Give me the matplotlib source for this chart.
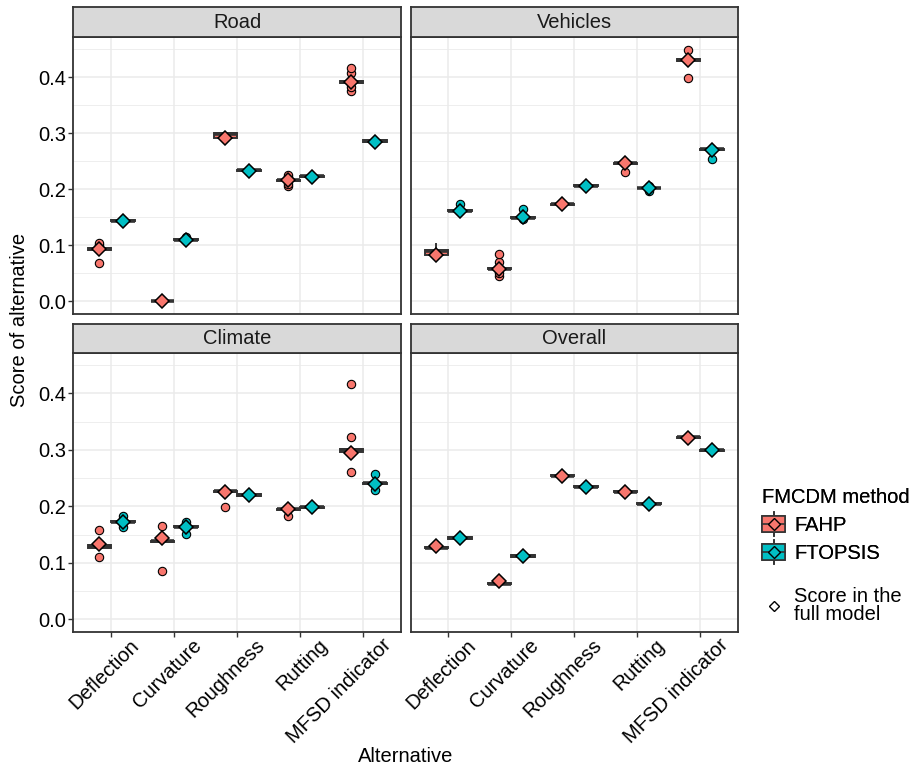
import numpy as np
import matplotlib
matplotlib.use("Agg")
import matplotlib.pyplot as plt
import matplotlib.transforms as mtransforms
from matplotlib.patches import Rectangle, Patch
from matplotlib.lines import Line2D
from matplotlib.legend_handler import HandlerBase

plt.rcParams['font.family'] = ['Liberation Sans', 'DejaVu Sans']

# ---------------------------------------------------------------------------
# data: scores of each alternative from the sensitivity runs + full model
# ---------------------------------------------------------------------------
alternatives = ["Deflection", "Curvature", "Roughness", "Rutting", "MFSD indicator"]
methods = ["FAHP", "FTOPSIS"]
method_colors = ["#F8766D", "#00BFC4"]
panel_names = ["Road", "Vehicles", "Climate", "Overall"]

road_fahp = [
    [0.068, 0.091, 0.092, 0.093, 0.093, 0.094, 0.095, 0.101, 0.105],
    [0.000, 0.000, 0.000, 0.000, 0.000, 0.000, 0.000, 0.000, 0.000],
    [0.288, 0.290, 0.291, 0.296, 0.298, 0.299, 0.301, 0.301, 0.302],
    [0.205, 0.209, 0.215, 0.216, 0.216, 0.217, 0.217, 0.221, 0.225],
    [0.376, 0.382, 0.390, 0.391, 0.392, 0.392, 0.393, 0.408, 0.417],
]
road_ftopsis = [
    [0.142, 0.143, 0.143, 0.144, 0.144, 0.144, 0.145, 0.145, 0.146],
    [0.108, 0.109, 0.109, 0.110, 0.110, 0.110, 0.111, 0.111, 0.115],
    [0.232, 0.233, 0.233, 0.234, 0.234, 0.234, 0.235, 0.235, 0.236],
    [0.221, 0.222, 0.222, 0.223, 0.223, 0.223, 0.224, 0.224, 0.225],
    [0.284, 0.285, 0.285, 0.286, 0.286, 0.286, 0.287, 0.287, 0.288],
]
road_fahp_full = [0.094, 0.000, 0.292, 0.216, 0.391]
road_ftopsis_full = [0.143, 0.109, 0.233, 0.222, 0.285]

vehicles_fahp = [
    [0.080, 0.082, 0.082, 0.083, 0.090, 0.091, 0.092, 0.093, 0.103],
    [0.045, 0.050, 0.057, 0.058, 0.058, 0.059, 0.060, 0.070, 0.085],
    [0.171, 0.172, 0.172, 0.173, 0.173, 0.173, 0.174, 0.174, 0.175],
    [0.230, 0.244, 0.245, 0.245, 0.246, 0.246, 0.247, 0.248, 0.249],
    [0.399, 0.428, 0.429, 0.430, 0.431, 0.432, 0.433, 0.434, 0.449],
]
vehicles_ftopsis = [
    [0.160, 0.161, 0.161, 0.162, 0.162, 0.162, 0.163, 0.163, 0.173],
    [0.147, 0.148, 0.149, 0.149, 0.149, 0.150, 0.150, 0.151, 0.165],
    [0.204, 0.205, 0.205, 0.206, 0.206, 0.206, 0.207, 0.207, 0.208],
    [0.196, 0.201, 0.202, 0.202, 0.203, 0.203, 0.203, 0.204, 0.205],
    [0.254, 0.269, 0.270, 0.271, 0.271, 0.271, 0.272, 0.273, 0.274],
]
vehicles_fahp_full = [0.083, 0.058, 0.173, 0.246, 0.430]
vehicles_ftopsis_full = [0.161, 0.150, 0.206, 0.202, 0.270]

climate_fahp = [
    [0.110, 0.126, 0.127, 0.128, 0.129, 0.130, 0.132, 0.133, 0.159],
    [0.086, 0.136, 0.137, 0.138, 0.138, 0.139, 0.139, 0.140, 0.165],
    [0.199, 0.225, 0.226, 0.227, 0.227, 0.228, 0.228, 0.229, 0.230],
    [0.183, 0.194, 0.194, 0.195, 0.195, 0.196, 0.196, 0.197, 0.197],
    [0.261, 0.296, 0.297, 0.299, 0.300, 0.301, 0.302, 0.323, 0.417],
]
climate_ftopsis = [
    [0.163, 0.171, 0.172, 0.173, 0.173, 0.173, 0.174, 0.175, 0.183],
    [0.151, 0.162, 0.163, 0.164, 0.164, 0.164, 0.165, 0.166, 0.173],
    [0.218, 0.219, 0.219, 0.220, 0.220, 0.220, 0.221, 0.221, 0.222],
    [0.196, 0.197, 0.197, 0.198, 0.198, 0.198, 0.199, 0.199, 0.200],
    [0.229, 0.239, 0.240, 0.241, 0.241, 0.241, 0.242, 0.243, 0.258],
]
climate_fahp_full = [0.134, 0.144, 0.226, 0.195, 0.295]
climate_ftopsis_full = [0.173, 0.164, 0.220, 0.198, 0.240]

overall_fahp = [
    [0.125, 0.126, 0.126, 0.127, 0.127, 0.127, 0.128, 0.128, 0.129],
    [0.061, 0.062, 0.062, 0.063, 0.063, 0.063, 0.064, 0.064, 0.065],
    [0.252, 0.253, 0.253, 0.254, 0.254, 0.254, 0.255, 0.255, 0.256],
    [0.224, 0.225, 0.225, 0.226, 0.226, 0.226, 0.227, 0.227, 0.228],
    [0.320, 0.321, 0.321, 0.322, 0.322, 0.322, 0.323, 0.323, 0.324],
]
overall_ftopsis = [
    [0.142, 0.143, 0.143, 0.144, 0.144, 0.144, 0.145, 0.145, 0.146],
    [0.110, 0.111, 0.111, 0.112, 0.112, 0.112, 0.113, 0.113, 0.114],
    [0.233, 0.234, 0.234, 0.235, 0.235, 0.235, 0.236, 0.236, 0.237],
    [0.203, 0.204, 0.204, 0.205, 0.205, 0.205, 0.206, 0.206, 0.207],
    [0.297, 0.298, 0.298, 0.299, 0.299, 0.299, 0.300, 0.300, 0.301],
]
overall_fahp_full = [0.129, 0.067, 0.254, 0.225, 0.321]
overall_ftopsis_full = [0.144, 0.112, 0.234, 0.205, 0.299]

runs = {
    "Road": (road_fahp, road_ftopsis),
    "Vehicles": (vehicles_fahp, vehicles_ftopsis),
    "Climate": (climate_fahp, climate_ftopsis),
    "Overall": (overall_fahp, overall_ftopsis),
}
full = {
    "Road": (road_fahp_full, road_ftopsis_full),
    "Vehicles": (vehicles_fahp_full, vehicles_ftopsis_full),
    "Climate": (climate_fahp_full, climate_ftopsis_full),
    "Overall": (overall_fahp_full, overall_ftopsis_full),
}

# ---------------------------------------------------------------------------
# layout (pixels -> figure fraction)
# ---------------------------------------------------------------------------
W, H = 912, 769
DARK = "#333333"
GRID = "#EBEBEB"
FS = 14.5


def frac(left, top, right, bottom):
    return [left / W, 1 - bottom / H, (right - left) / W, (bottom - top) / H]


cols_px = [(73.5, 401), (410.5, 738)]
rows_px = [(7, 37, 314), (324, 353, 632)]   # strip top, panel top, panel bottom

all_vals = np.concatenate([np.ravel(v) for pair in runs.values() for v in pair])
lo, hi = all_vals.min(), all_vals.max()
pad = 0.05 * (hi - lo)
ylim = (lo - pad, hi + pad)

dodge = 0.1875
box_w = 0.375
x = np.arange(1, len(alternatives) + 1)

fig = plt.figure(figsize=(W / 100, H / 100), dpi=100)
# rotated x labels sit a little right of / above the plain anchor point
label_shift = mtransforms.ScaledTranslation(18 / 100, 4 / 100, fig.dpi_scale_trans)

for k, name in enumerate(panel_names):
    r, c = divmod(k, 2)
    left, right = cols_px[c]
    s_top, p_top, p_bot = rows_px[r]

    ax = fig.add_axes(frac(left, p_top, right, p_bot))
    ax.set_xlim(0.4, len(alternatives) + 0.6)
    ax.set_ylim(*ylim)
    ax.set_axisbelow(True)

    ax.set_yticks(np.arange(0, 0.41, 0.1))
    ax.set_yticks(np.arange(0.05, 0.46, 0.1), minor=True)
    ax.set_xticks(x)
    ax.grid(True, which="major", color=GRID, lw=1.1)
    ax.grid(True, which="minor", axis="y", color=GRID, lw=0.6)
    for sp in ax.spines.values():
        sp.set_color(DARK)
        sp.set_linewidth(1.3)
    ax.tick_params(which="major", length=3.5, width=1.0, color=DARK,
                   labelsize=FS, labelcolor="black", pad=2)
    ax.tick_params(which="minor", length=0)

    if c == 0:
        ax.set_yticklabels([f"{v:.1f}" for v in np.arange(0, 0.41, 0.1)])
    else:
        ax.tick_params(axis="y", which="major", length=0, labelleft=False)
    if r == 1:
        ax.set_xticklabels(alternatives, rotation=45, ha="right", va="top",
                           rotation_mode="anchor")
        for lab in ax.get_xticklabels():
            lab.set_transform(lab.get_transform() + label_shift)
    else:
        ax.tick_params(axis="x", length=0, labelbottom=False)

    for m, (col, vals, scores) in enumerate(zip(method_colors, runs[name], full[name])):
        pos = x + (m - 0.5) * 2 * dodge
        ax.boxplot(
            vals, positions=pos, widths=box_w, patch_artist=True,
            showcaps=False, manage_ticks=False,
            boxprops=dict(facecolor=col, edgecolor=DARK, linewidth=1.4),
            whiskerprops=dict(color=DARK, linewidth=1.4),
            medianprops=dict(color=DARK, linewidth=2.6),
            flierprops=dict(marker="o", markerfacecolor=col, markeredgecolor="black",
                            markersize=6.0, markeredgewidth=0.8),
            zorder=2,
        )
        ax.plot(pos, scores, linestyle="none", marker="D", markersize=7.0,
                markerfacecolor=col, markeredgecolor="black", markeredgewidth=1.1,
                zorder=4)

    # facet strip
    sax = fig.add_axes(frac(left, s_top, right, p_top))
    sax.set_facecolor("#D9D9D9")
    sax.set_xticks([])
    sax.set_yticks([])
    for sp in sax.spines.values():
        sp.set_color(DARK)
        sp.set_linewidth(1.3)
    sax.text(0.5, 0.5, name, ha="center", va="center", fontsize=FS,
             color="#1A1A1A", transform=sax.transAxes)

fig.text(405.8 / W, 1 - 757 / H, "Alternative", ha="center", va="center", fontsize=FS)
fig.text(20 / W, 1 - 319.5 / H, "Score of alternative", ha="center", va="center",
         rotation=90, fontsize=FS)


# ---------------------------------------------------------------------------
# legend
# ---------------------------------------------------------------------------
class BoxKey(HandlerBase):
    def create_artists(self, legend, orig_handle, xdescent, ydescent,
                       width, height, fontsize, trans):
        col = orig_handle.get_facecolor()
        x0, y0 = -xdescent, -ydescent
        cx, cy = x0 + width / 2, y0 + height / 2
        whisk = Line2D([cx, cx], [y0 - 0.25 * height, y0 + 1.25 * height],
                       color=DARK, lw=1.2, transform=trans)
        rect = Rectangle((x0, y0), width, height, facecolor=col,
                         edgecolor=DARK, lw=1.2, transform=trans)
        med = Line2D([x0, x0 + width], [cy, cy], color=DARK, lw=1.2, transform=trans)
        dia = Line2D([cx], [cy], marker="D", markersize=6.4, markerfacecolor=col,
                     markeredgecolor="black", markeredgewidth=1.0, linestyle="none",
                     transform=trans)
        return [whisk, rect, med, dia]


box_handles = [Patch(facecolor=col, label=m) for m, col in zip(methods, method_colors)]
leg1 = fig.legend(handles=box_handles, title="FMCDM method",
                  handler_map={Patch: BoxKey()},
                  loc="upper left", bbox_to_anchor=(752 / W, 1 - 478 / H),
                  frameon=False, fontsize=FS, title_fontsize=FS,
                  handlelength=1.15, handleheight=0.85, handletextpad=0.45,
                  labelspacing=0.45, borderpad=0, alignment="left")
fig.add_artist(leg1)

score_handle = Line2D([], [], linestyle="none", marker="D", markersize=5.4,
                      markerfacecolor="white", markeredgecolor="black",
                      markeredgewidth=1.0, label="Score in the\nfull model")
leg2 = fig.legend(handles=[score_handle], loc="upper left",
                  bbox_to_anchor=(752 / W, 1 - 577 / H), frameon=False, fontsize=FS,
                  handlelength=1.15, handletextpad=0.45, borderpad=0)
for t in leg2.get_texts():
    t.set_linespacing(0.95)

fig.savefig("out.png", dpi=100)
